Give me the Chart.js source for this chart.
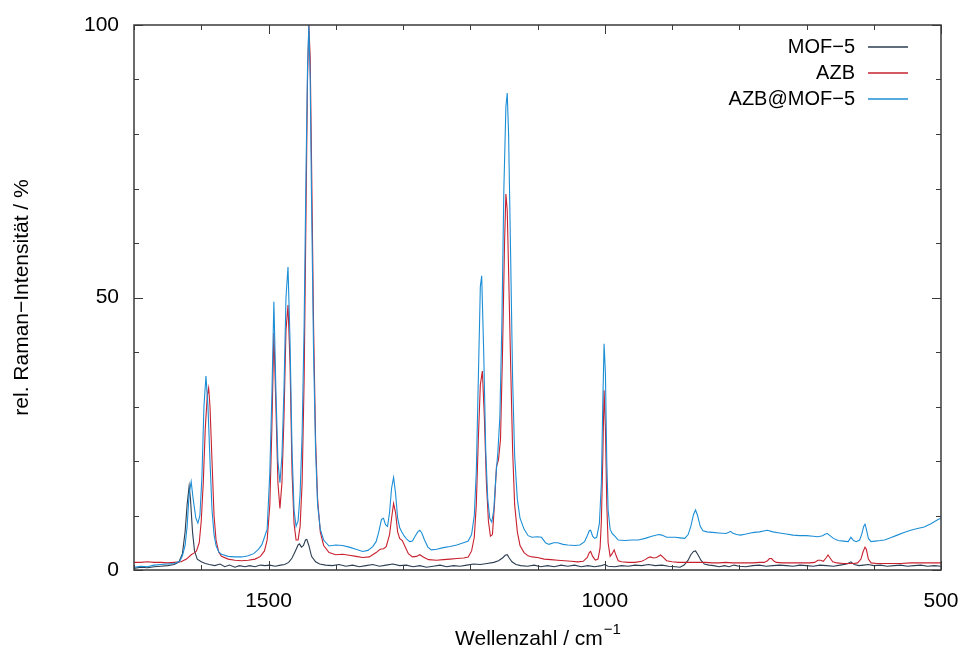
<!DOCTYPE html>
<html>
<head>
<meta charset="utf-8">
<script src="https://cdn.jsdelivr.net/npm/chart.js@4.4.1/dist/chart.umd.min.js"></script>
<style>
  body { margin: 0; background: #fff; }
  canvas { display: block; }
</style>
</head>
<body>
<canvas id="ramanChart" width="963" height="652"></canvas>
<script>
// tick values for the labelled axis ticks
const xTickLabels = [500, 1000, 1500];
const yTickLabels = [0, 50, 100];
const seriesNames = ["MOF\u22125", "AZB", "AZB@MOF\u22125"];

// MOF-5 spectrum: [wavenumber, rel. intensity]
const mofPoints = [
  [1700,0.3],[1690,0.5],[1680,0.4],[1670,0.6],[1660,0.7],[1650,0.8],[1640,1.0],[1633,1.5],
  [1628,3],[1624,7],[1621,12],[1618,15.4],[1616,13],[1613,7],[1610,3.5],[1606,2.0],[1600,1.5],
  [1594,1.2],[1588,1.0],[1580,0.8],[1572,1.1],[1565,0.6],[1558,0.9],[1550,0.5],[1543,0.8],
  [1535,0.6],[1528,0.8],[1520,0.6],[1512,0.9],[1505,0.8],[1498,0.9],[1490,0.7],[1482,0.9],
  [1476,1.0],[1470,1.4],[1465,2.2],[1460,3.5],[1456,4.6],[1454,4.8],[1451,4.2],[1448,4.5],
  [1445,5.5],[1443,5.6],[1440,4.5],[1436,2.5],[1430,1.5],[1424,1.1],[1415,0.9],[1405,0.8],
  [1395,1.0],[1385,0.7],[1375,0.9],[1365,0.6],[1355,0.8],[1345,1.0],[1335,0.7],[1325,0.9],
  [1315,1.1],[1305,0.8],[1295,0.9],[1285,0.6],[1275,0.8],[1265,0.5],[1255,0.7],[1245,0.9],
  [1235,0.6],[1225,0.8],[1215,0.7],[1205,0.9],[1195,1.1],[1185,1.0],[1175,1.2],[1165,1.4],
  [1158,1.7],[1152,2.2],[1148,2.7],[1145,2.8],[1142,2.2],[1138,1.5],[1132,1.0],[1125,0.8],
  [1115,0.7],[1105,0.9],[1095,0.6],[1085,0.8],[1075,0.6],[1065,0.9],[1055,0.7],[1045,0.9],
  [1035,0.6],[1025,0.8],[1015,0.6],[1005,0.8],[1000,1.0],[995,0.7],[985,0.6],[975,0.8],
  [965,0.7],[955,0.9],[945,0.8],[935,1.0],[925,0.8],[915,0.9],[905,0.7],[895,0.6],[888,0.5],
  [882,0.9],[876,1.8],[872,2.8],[868,3.4],[865,3.5],[861,2.7],[857,1.8],[852,1.1],[845,0.9],
  [838,0.8],[830,0.6],[822,0.8],[815,0.6],[808,0.9],[800,0.7],[790,0.6],[780,0.8],[770,0.9],
  [760,0.7],[750,0.8],[740,0.9],[730,0.8],[720,0.7],[710,0.9],[700,0.8],[690,0.7],[680,0.9],
  [670,0.8],[660,0.7],[650,0.9],[640,1.1],[634,1.5],[629,1.0],[622,0.8],[615,0.9],[608,1.0],
  [600,0.8],[590,0.9],[580,0.7],[570,0.8],[560,0.9],[550,0.7],[540,0.8],[530,0.9],[520,0.7],
  [510,0.8],[500,0.7]
];

// AZB spectrum
const azbPoints = [
  [1700,1.4],[1690,1.4],[1680,1.5],[1670,1.4],[1660,1.4],[1650,1.3],[1640,1.4],[1630,1.5],
  [1622,2.0],[1615,2.8],[1611,3.1],[1607,3.5],[1603,5],[1600,9],[1597,16],[1594,26],[1591,32],
  [1589,33.4],[1587,30],[1584,20],[1581,10],[1578,5.5],[1574,3.3],[1570,2.5],[1560,2.0],
  [1550,1.8],[1540,1.7],[1530,1.8],[1520,2.0],[1512,2.5],[1506,3.5],[1502,5.5],[1498,12],
  [1495,26],[1492,43.5],[1489,30],[1486,16],[1483,11.3],[1480,16],[1477,28],[1474,44],
  [1471,48.6],[1468,38],[1465,18],[1462,8.5],[1459,5.5],[1456,5.5],[1453,8],[1450,16],
  [1447,35],[1444,68],[1442,90],[1440,100],[1438,94],[1436,75],[1433,45],[1430,24],[1427,13],
  [1423,7],[1418,4.5],[1410,3.2],[1400,2.8],[1390,2.9],[1380,2.7],[1370,2.5],[1360,2.3],
  [1350,2.4],[1340,3.2],[1334,3.8],[1329,3.9],[1325,4.3],[1320,6.5],[1317,9.5],[1314,12.2],
  [1311,10.5],[1308,7],[1305,5.8],[1301,5.4],[1297,4.3],[1292,3.0],[1286,2.4],[1280,2.5],
  [1275,2.8],[1270,2.4],[1262,1.9],[1250,1.8],[1240,1.9],[1230,2.0],[1220,2.1],[1210,2.2],
  [1203,2.4],[1198,3.5],[1194,6],[1191,12],[1188,24],[1185,34],[1182,36.5],[1179,28],
  [1176,16],[1173,9],[1170,6.2],[1167,6.5],[1164,12],[1161,19],[1158,20.2],[1155,24],
  [1152,40],[1149,60],[1147,69],[1145,66],[1143,55],[1140,38],[1137,22],[1134,12],[1130,7],
  [1126,4.5],[1120,3.2],[1114,2.6],[1108,2.4],[1100,2.3],[1090,2.0],[1080,1.9],[1070,1.8],
  [1060,1.7],[1050,1.6],[1040,1.5],[1032,1.6],[1026,2.3],[1023,3.2],[1021,3.4],[1018,2.5],
  [1014,1.8],[1010,2.0],[1007,4],[1005,9],[1003,20],[1001,33],[999,26],[997,12],[995,5],
  [992,2.5],[989,3.0],[986,3.7],[983,2.6],[980,1.7],[975,1.5],[965,1.4],[955,1.4],[945,1.6],
  [940,1.9],[935,2.3],[932,2.4],[928,2.2],[923,2.3],[917,2.75],[913,2.3],[908,1.7],[900,1.5],
  [890,1.4],[880,1.4],[870,1.4],[860,1.4],[850,1.4],[840,1.3],[830,1.3],[820,1.4],[810,1.3],
  [800,1.3],[790,1.3],[780,1.3],[770,1.4],[763,1.4],[758,1.7],[755,2.1],[752,2.1],[749,1.7],
  [745,1.4],[735,1.3],[725,1.3],[715,1.3],[705,1.3],[695,1.3],[688,1.4],[683,1.8],[679,1.8],
  [675,1.6],[671,2.2],[668,2.75],[665,2.2],[661,1.5],[655,1.3],[645,1.2],[638,1.2],[630,1.2],
  [624,1.3],[619,2.0],[616,3.3],[613,4.2],[611,3.8],[608,2.0],[604,1.3],[595,1.2],[585,1.2],
  [575,1.2],[560,1.2],[545,1.3],[530,1.3],[515,1.3],[500,1.3]
];

// AZB@MOF-5 spectrum
const mixPoints = [
  [1700,0.5],[1690,0.7],[1680,0.6],[1670,0.9],[1660,1.0],[1650,1.1],[1640,1.2],[1632,1.6],
  [1628,2.6],[1624,4.5],[1621,8],[1618,14],[1615,16.2],[1612,13],[1608,9.5],[1605,8.6],
  [1602,10],[1599,17],[1596,30],[1593,35.6],[1590,30],[1587,20],[1584,11],[1581,6.5],
  [1578,4.5],[1574,3.3],[1570,2.9],[1560,2.5],[1550,2.4],[1540,2.4],[1530,2.6],[1522,3.0],
  [1515,3.8],[1510,4.6],[1506,6],[1502,7.5],[1498,18],[1495,32],[1492,49.2],[1489,33],
  [1486,20],[1483,16],[1480,21],[1477,33],[1474,50],[1471,55.6],[1468,42],[1465,22],
  [1462,11],[1459,8],[1456,9],[1453,14],[1450,25],[1447,45],[1444,75],[1442,92],[1440,100],
  [1438,90],[1436,68],[1433,40],[1430,22],[1427,12],[1423,7.5],[1418,5.5],[1410,4.4],
  [1400,4.6],[1390,4.5],[1380,4.2],[1370,3.8],[1360,3.4],[1352,3.6],[1345,4.3],[1340,5.2],
  [1336,7.0],[1332,9.3],[1329,9.5],[1326,8.3],[1323,8.0],[1320,10.5],[1317,15],[1314,17],
  [1311,14],[1308,9.5],[1305,7.8],[1302,7.0],[1298,6.2],[1294,5.6],[1290,5.2],[1286,5.3],
  [1282,6.2],[1278,7.0],[1275,7.3],[1272,6.8],[1268,5.5],[1263,4.2],[1258,3.7],[1250,3.8],
  [1240,4.1],[1230,4.3],[1220,4.6],[1210,5.0],[1203,5.3],[1198,6.5],[1194,10],[1191,18],
  [1188,35],[1185,52],[1183,54],[1180,40],[1177,22],[1174,13],[1171,9.5],[1168,8.8],
  [1165,11],[1162,17],[1159,21.5],[1156,28],[1153,45],[1150,70],[1147,85],[1145,87.5],
  [1143,80],[1140,58],[1137,35],[1134,21],[1130,13],[1126,9.5],[1120,7.5],[1114,6.3],
  [1108,6.0],[1100,6.1],[1094,6.0],[1088,5.0],[1083,4.7],[1076,5.0],[1070,5.0],[1062,4.7],
  [1055,4.6],[1045,4.5],[1037,4.6],[1030,5.2],[1026,6.3],[1023,7.2],[1021,7.3],[1018,6.2],
  [1015,5.8],[1012,6.0],[1008,8.5],[1005,16],[1003,30],[1001,41.5],[999,36],[997,20],
  [995,11],[992,7.5],[989,6.7],[985,6.2],[980,5.5],[970,5.4],[960,5.5],[950,5.5],[940,5.8],
  [930,6.2],[920,6.5],[915,6.4],[908,6.0],[900,6.0],[895,6.0],[888,5.9],[881,5.8],[876,6.5],
  [872,8.0],[868,10.2],[865,11.0],[862,10.0],[858,8.0],[854,7.2],[848,7.0],[840,6.9],
  [830,6.8],[820,6.7],[816,6.9],[813,7.1],[810,6.8],[804,6.5],[798,6.4],[790,6.6],[783,6.8],
  [778,6.9],[770,7.0],[762,7.2],[758,7.3],[750,7.0],[740,6.8],[730,6.6],[720,6.4],[710,6.3],
  [700,6.3],[690,6.2],[683,6.1],[676,6.3],[672,6.6],[669,6.7],[666,6.4],[660,5.8],[653,5.4],
  [645,5.3],[638,5.2],[634,6.0],[630,5.4],[626,5.2],[621,5.5],[618,6.5],[615,8.0],[613,8.4],
  [611,7.5],[608,5.8],[604,5.2],[598,5.3],[590,5.4],[584,5.5],[575,5.9],[565,6.4],[555,6.9],
  [545,7.3],[535,7.6],[525,7.9],[515,8.5],[505,9.2],[500,9.5]
];

const seriesColors = ["#2c3d52", "#c8202e", "#1c8ed6"];
const font = "'Liberation Sans', Arial, Helvetica, sans-serif";

function toXY(points) {
	return points.map((p) => ({ x: p[0], y: p[1] }));
}

// gnuplot-like frame: box, inward ticks on all four sides, legend, x title
const gnuFrame = {
	id: "gnuFrame",
	afterDatasetsDraw(chart) {
		const { ctx, chartArea: a, scales } = chart;
		const xs = scales.x;
		const ys = scales.y;
		ctx.save();
		ctx.strokeStyle = "#3a3a3a";
		ctx.lineWidth = 1;
		xs.ticks.forEach((t) => {
			const px = Math.round(xs.getPixelForValue(t.value)) + 0.5;
			const len = xTickLabels.includes(t.value) ? 9 : 5;
			ctx.beginPath();
			ctx.moveTo(px, a.bottom);
			ctx.lineTo(px, a.bottom - len);
			ctx.moveTo(px, a.top);
			ctx.lineTo(px, a.top + len);
			ctx.stroke();
		});
		ys.ticks.forEach((t) => {
			const py = Math.round(ys.getPixelForValue(t.value)) + 0.5;
			const len = yTickLabels.includes(t.value) ? 9 : 5;
			ctx.beginPath();
			ctx.moveTo(a.left, py);
			ctx.lineTo(a.left + len, py);
			ctx.moveTo(a.right, py);
			ctx.lineTo(a.right - len, py);
			ctx.stroke();
		});
		ctx.lineWidth = 1.5;
		ctx.strokeRect(a.left, a.top, a.right - a.left, a.bottom - a.top);

		// legend, right aligned text with a line sample after it
		ctx.font = "20px " + font;
		ctx.textAlign = "right";
		ctx.textBaseline = "middle";
		seriesNames.forEach((name, i) => {
			const y = Math.round(a.top + 22 + i * 26);
			ctx.fillStyle = "#000";
			ctx.fillText(name, a.right - 86, y);
			ctx.strokeStyle = seriesColors[i];
			ctx.lineWidth = 1.5;
			ctx.beginPath();
			ctx.moveTo(Math.round(a.right - 73), y);
			ctx.lineTo(Math.round(a.right - 33), y);
			ctx.stroke();
		});

		// x axis title with superscript
		const main = "Wellenzahl / cm";
		const sup = "\u22121";
		ctx.font = "21px " + font;
		const w1 = ctx.measureText(main).width;
		ctx.font = "15px " + font;
		const w2 = ctx.measureText(sup).width;
		const x0 = (a.left + a.right) / 2 - (w1 + w2) / 2;
		ctx.fillStyle = "#000";
		ctx.textAlign = "left";
		ctx.textBaseline = "alphabetic";
		ctx.font = "21px " + font;
		ctx.fillText(main, x0, 645);
		ctx.font = "15px " + font;
		ctx.fillText(sup, x0 + w1 + 1, 634);
		ctx.restore();
	},
};

const ctx = document.getElementById("ramanChart").getContext("2d");
new Chart(ctx, {
	type: "line",
	data: {
		datasets: [
			{
				label: seriesNames[0],
				data: toXY(mofPoints),
				borderColor: seriesColors[0],
				borderWidth: 1.1,
				order: 2,
			},
			{
				label: seriesNames[1],
				data: toXY(azbPoints),
				borderColor: seriesColors[1],
				borderWidth: 1.1,
				order: 1,
			},
			{
				label: seriesNames[2],
				data: toXY(mixPoints),
				borderColor: seriesColors[2],
				borderWidth: 1.1,
				order: 0,
			},
		],
	},
	options: {
		responsive: false,
		animation: false,
		layout: { padding: { top: 25, right: 22, left: 0, bottom: 0 } },
		elements: {
			point: { radius: 0 },
			line: { tension: 0, fill: false },
		},
		plugins: {
			legend: { display: false },
			tooltip: { enabled: false },
		},
		scales: {
			x: {
				type: "linear",
				reverse: true,
				min: 500,
				max: 1700,
				afterFit: (scale) => {
					scale.height = 82;
					scale.paddingLeft = 0;
					scale.paddingRight = 0;
				},
				grid: { drawOnChartArea: false, drawTicks: false },
				border: { display: false },
				ticks: {
					stepSize: 100,
					autoSkip: false,
					maxRotation: 0,
					padding: 19,
					color: "#000",
					font: { family: font, size: 21 },
					callback: (v) => (xTickLabels.includes(v) ? String(v) : ""),
				},
			},
			y: {
				min: 0,
				max: 100,
				afterFit: (scale) => {
					scale.width = 134;
					scale.paddingTop = 0;
					scale.paddingBottom = 0;
				},
				grid: { drawOnChartArea: false, drawTicks: false },
				border: { display: false },
				title: {
					display: true,
					text: "rel. Raman\u2212Intensit\u00e4t / %",
					color: "#000",
					font: { family: font, size: 21 },
					padding: { top: 10, bottom: 0 },
				},
				ticks: {
					stepSize: 10,
					padding: 15,
					color: "#000",
					font: { family: font, size: 21 },
					callback: (v) => (yTickLabels.includes(v) ? String(v) : ""),
				},
			},
		},
	},
	plugins: [gnuFrame],
});
</script>
</body>
</html>
